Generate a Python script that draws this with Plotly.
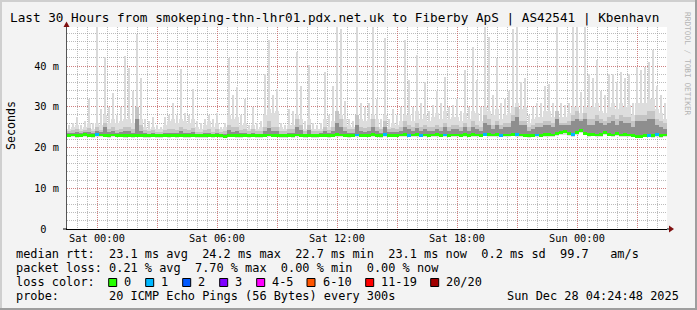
import pandas as pd
import plotly.graph_objects as go

# ---------------- data (12-minute bins, Fri 22:30 -> Sun 04:30) ----------------
bin_start = "2025-12-26 22:36"
bin_minutes = 12

rtt_max = [
    25.5, 26, 27.5, 25.5, 26.5, 32, 26, 50, 29.5, 42.3, 30, 33.3, 28, 30, 42.5,
    39.5, 34, 48, 37, 27, 26.5, 27.5, 25.5, 25, 27.5, 28, 31, 28, 39.4, 28.5,
    28, 34.5, 26.5, 26, 27, 28, 27, 28.6, 25, 26, 42, 33, 34.8, 28, 32,
    25.5, 30, 26, 26.5, 38, 46.3, 33, 34.5, 26, 25.5, 29.5, 29, 43.5, 35, 26.5,
    40.2, 26, 25.5, 26, 38.6, 28, 35, 50, 49, 31.4, 27, 26.5, 50, 31, 30,
    31, 50, 32, 27, 47, 27, 29.5, 28, 30, 46.5, 36.5, 30, 42.7, 31, 36,
    29, 30.5, 34, 31, 37.4, 30, 30.5, 32, 29, 39, 30, 44.8, 36.5, 30, 50,
    47.2, 33, 42, 31, 32, 34, 49, 50, 36, 37, 28, 30, 31, 31, 35,
    35.5, 31, 50, 31, 30.5, 31, 50, 50, 33.6, 50, 38, 37, 41.4, 34, 33,
    38, 38, 36, 38.5, 37, 38, 31, 39.8, 39, 39.7, 41, 44, 35, 33, 31,
]
rtt_p90 = [
    24.5, 25, 25.5, 24.5, 25, 26, 24.5, 26, 25.5, 28, 26, 27, 26, 26.5, 27,
    27, 26, 28, 27, 25, 24.5, 25, 24.5, 24.5, 25.5, 26.5, 27, 26, 27, 26.5,
    26, 27, 25, 24.5, 25.5, 26.5, 25, 26, 24.5, 25, 28, 27, 27.5, 25.5, 26,
    24.5, 25.5, 24.5, 25, 28, 29.5, 28.5, 29, 25, 24.5, 25.5, 25.5, 28, 27, 24.5,
    27, 24.5, 24.5, 24.5, 27, 25, 26.5, 29, 28, 27, 25.5, 25, 28, 27, 26.5,
    27, 28, 27, 25, 28, 25, 26, 25.5, 26.5, 28, 28, 26.5, 29, 27, 28,
    26.5, 27.5, 28.5, 27, 29, 27, 27.5, 27.5, 26.5, 28.5, 27, 29, 28.5, 26.5, 30,
    29, 28, 29.5, 27, 28, 28.5, 30, 31, 29.5, 30, 26, 27, 27.5, 27.5, 29,
    29, 27.5, 29, 27.5, 27.5, 28.5, 30, 30, 28.5, 30, 30, 30, 31, 29, 28.5,
    30, 31, 29.5, 31, 30, 30.5, 28, 31, 31, 31, 32, 32, 29.5, 28.5, 27,
]
rtt_p75 = [
    24, 24.3, 24.5, 24, 24.3, 24.8, 24, 25, 24.3, 26, 24.5, 25, 24.3, 24.5, 25,
    25, 24.5, 30, 25.5, 24.2, 24, 24.3, 23.9, 23.9, 24.2, 24.5, 24.5, 24.2, 25, 24.5,
    24.2, 24.8, 23.9, 23.9, 24.2, 24.5, 23.9, 24.5, 23.8, 24, 25.5, 25, 25, 24.2, 24.5,
    24, 24.5, 24, 24, 25, 26.5, 25, 25, 24, 24, 24.5, 24.5, 27, 25.5, 24,
    25.5, 24, 24, 24, 25, 24.2, 25, 29, 27, 25, 24.5, 24.5, 28, 25, 24.8,
    25, 27, 25, 24.5, 26.5, 24.5, 24.8, 24.5, 25, 26.5, 25.5, 25, 26, 25, 25.5,
    25, 25, 25.5, 25, 26, 25, 25.5, 25.5, 25, 26, 25, 26.5, 25.5, 25, 28,
    27, 25.5, 26.5, 25.5, 26, 26, 28, 30, 26.5, 26.5, 25, 25.5, 26, 26, 26.5,
    26.5, 26, 29, 26, 26, 26.5, 28, 29, 27, 28.5, 27, 27, 28, 27, 26.5,
    27.5, 28, 27, 28, 27.5, 27.5, 26.5, 28, 28, 28, 29, 29, 27, 26.5, 26,
]
rtt_p60 = [
    23.5, 23.6, 23.8, 23.5, 23.7, 23.9, 23.5, 24, 23.7, 25, 23.7, 24, 23.6, 23.7, 24,
    24, 23.6, 27, 24, 23.5, 23.4, 23.5, 23.4, 23.4, 23.5, 23.6, 23.6, 23.5, 24, 23.6,
    23.5, 23.8, 23.4, 23.4, 23.5, 23.6, 23.4, 23.6, 23.3, 23.4, 24.2, 23.9, 24, 23.5, 23.6,
    23.4, 23.6, 23.4, 23.4, 24, 24.8, 24, 24, 23.4, 23.4, 23.6, 23.6, 25, 24.2, 23.4,
    24.2, 23.4, 23.4, 23.5, 24, 23.5, 24, 26, 25, 24, 23.6, 23.6, 25.5, 24, 23.8,
    24, 25, 24, 23.6, 25, 23.7, 23.9, 23.7, 24, 25, 24.5, 24, 24.8, 24, 24.5,
    24, 24, 24.5, 24, 25, 24, 24.5, 24.5, 24, 25, 24, 25, 24.5, 24, 26,
    25.5, 24.5, 25.5, 24.5, 25, 25, 26.5, 27.5, 25.5, 25.5, 24, 24.5, 25, 25, 25.5,
    25.5, 25, 27, 25.5, 25.5, 25.5, 26.5, 27, 26.5, 27, 25.5, 25.5, 26.5, 26, 25.5,
    26, 26.5, 25.5, 26.5, 26, 26, 25, 26.5, 26.5, 26.5, 27, 27, 25.5, 25, 24.5,
]
rtt_min = [
    22.5, 22.6, 22.4, 22.5, 22.6, 22.5, 22.4, 22.6, 22.6, 22.5, 22.4, 22.6, 22.5, 22.5, 22.4,
    22.5, 22.4, 22.5, 22.5, 22.4, 22.4, 22.5, 22.4, 22.4, 22.5, 22.4, 22.5, 22.4, 22.5, 22.4,
    22.4, 22.5, 22.4, 22.4, 22.4, 22.5, 22.4, 22.5, 22.4, 22.3, 22.5, 22.5, 22.4, 22.4, 22.5,
    22.4, 22.5, 22.4, 22.4, 22.5, 22.6, 22.5, 22.5, 22.4, 22.4, 22.5, 22.4, 22.6, 22.5, 22.4,
    22.5, 22.4, 22.4, 22.5, 22.5, 22.4, 22.5, 22.7, 22.6, 22.5, 22.4, 22.5, 22.6, 22.5, 22.5,
    22.5, 22.7, 22.5, 22.4, 22.7, 22.5, 22.5, 22.5, 22.6, 22.7, 22.5, 22.6, 22.7, 22.5, 22.6,
    22.5, 22.6, 22.7, 22.5, 22.6, 22.5, 22.6, 22.6, 22.5, 22.7, 22.5, 22.7, 22.6, 22.5, 22.8,
    22.7, 22.6, 22.7, 22.5, 22.6, 22.6, 22.8, 22.7, 22.6, 22.5, 22.4, 22.5, 22.6, 22.5, 22.7,
    22.7, 22.6, 22.9, 23.0, 23.2, 22.9, 22.7, 23.1, 23.5, 23.0, 22.7, 22.8, 22.6, 22.7, 23.0,
    22.8, 22.6, 22.9, 22.6, 22.7, 22.6, 22.5, 22.3, 22.3, 22.5, 22.5, 22.4, 22.7, 22.4, 22.6,
]
rtt_median = [
    23.0, 23.1, 22.9, 23.0, 23.2, 23.0, 22.9, 23.2, 23.1, 23.0, 22.9, 23.1, 23.0, 23.0, 22.9,
    23.0, 22.9, 23.0, 23.0, 22.9, 22.9, 23.0, 22.9, 22.9, 23.0, 22.9, 23.0, 22.9, 23.0, 22.9,
    22.9, 23.0, 22.9, 22.9, 22.9, 23.0, 22.9, 23.0, 22.9, 22.8, 23.0, 23.0, 22.9, 22.9, 23.0,
    22.9, 23.0, 22.9, 22.9, 23.0, 23.1, 23.0, 23.0, 22.9, 22.9, 23.0, 22.9, 23.1, 23.0, 22.9,
    23.0, 22.9, 22.9, 23.0, 23.0, 22.9, 23.0, 23.2, 23.1, 23.0, 22.9, 23.0, 23.1, 23.0, 23.0,
    23.0, 23.2, 23.0, 22.9, 23.2, 23.0, 23.0, 23.0, 23.1, 23.2, 23.0, 23.1, 23.2, 23.0, 23.1,
    23.0, 23.1, 23.2, 23.0, 23.1, 23.0, 23.1, 23.1, 23.0, 23.2, 23.0, 23.2, 23.1, 23.0, 23.3,
    23.2, 23.1, 23.2, 23.0, 23.1, 23.1, 23.3, 23.2, 23.1, 23.0, 22.9, 23.0, 23.1, 23.0, 23.2,
    23.2, 23.1, 23.4, 23.6, 23.9, 23.4, 23.2, 23.7, 24.2, 23.5, 23.2, 23.3, 23.1, 23.2, 23.6,
    23.3, 23.1, 23.4, 23.1, 23.2, 23.1, 23.0, 22.8, 22.8, 23.0, 23.0, 22.9, 23.2, 22.9, 23.1,
]
loss_count = [
    0, 0, 0, 0, 0, 0, 0, 1, 0, 0, 0, 0, 0, 0, 0,
    0, 0, 0, 0, 0, 0, 0, 0, 0, 0, 0, 0, 0, 0, 0,
    0, 0, 0, 0, 0, 0, 0, 0, 0, 0, 0, 0, 0, 0, 0,
    0, 0, 0, 0, 0, 0, 0, 0, 0, 0, 0, 0, 0, 0, 0,
    0, 0, 0, 0, 0, 0, 0, 0, 0, 0, 0, 0, 1, 0, 0,
    0, 0, 0, 0, 1, 0, 0, 0, 0, 0, 1, 0, 0, 1, 0,
    0, 0, 0, 0, 1, 0, 0, 0, 0, 0, 0, 0, 0, 0, 1,
    0, 0, 0, 1, 0, 0, 0, 1, 0, 0, 0, 0, 1, 0, 0,
    0, 0, 0, 0, 0, 0, 1, 0, 0, 0, 0, 0, 0, 0, 0,
    0, 0, 0, 0, 0, 0, 0, 0, 0, 0, 1, 0, 1, 0, 0,
]

loss_labels = ["0", "1", "2", "3", "4-5", "6-10", "11-19", "20/20"]
loss_colors = ["#26ff00", "#00b8ff", "#0059ff", "#7e00ff", "#ff00ff", "#ff5500", "#ff0000", "#a10000"]
loss_limits = [0, 1, 2, 3, 5, 10, 19, 20]

x_tick_times = ["2025-12-27 00:00", "2025-12-27 03:00", "2025-12-27 06:00", "2025-12-27 09:00",
                "2025-12-27 12:00", "2025-12-27 15:00", "2025-12-27 18:00", "2025-12-27 21:00",
                "2025-12-28 00:00", "2025-12-28 03:00"]
x_tick_labels = ["Sat 00:00", "", "Sat 06:00", "", "Sat 12:00", "", "Sat 18:00", "", "Sun 00:00", ""]
y_tick_vals = [0, 10, 20, 30, 40]
y_tick_labels = ["0\u00a0\u00a0", "10\u00a0m", "20\u00a0m", "30\u00a0m", "40\u00a0m"]

title_text = "Last 30 Hours from smokeping-thn-lhr01.pdx.net.uk to Fiberby ApS | AS42541 | Kbenhavn"
legend_lines = [
    "median rtt:  23.1 ms avg  24.2 ms max  22.7 ms min  23.1 ms now  0.2 ms sd  99.7   am/s",
    "packet loss: 0.21 % avg  7.70 % max  0.00 % min  0.00 % now",
    "loss color:",
    "probe:       20 ICMP Echo Pings (56 Bytes) every 300s",
]
stamp_text = "Sun Dec 28 04:24:48 2025"

# ---------------- layout geometry ----------------
W, H = 697, 310
L, R, T, B = 67, 667, 27, 229
MONO = "DejaVu Sans Mono"


def px(xpix):
    return (xpix - L) / (R - L)


def py(ypix):
    return (B - ypix) / (B - T)


times = pd.date_range(start=bin_start, periods=len(rtt_max), freq=f"{bin_minutes}min")
bin_ms = bin_minutes * 60 * 1000


def loss_color(n):
    for lim, col in zip(loss_limits, loss_colors):
        if n <= lim:
            return col
    return loss_colors[-1]


fig = go.Figure()


def smoke(top, base, color, width):
    fig.add_trace(go.Bar(
        x=times, y=[t - b for t, b in zip(top, base)], base=base, width=width,
        marker=dict(color=color, line=dict(width=0)), hoverinfo="skip",
    ))


smoke(rtt_max, rtt_min, "#d9d9d9", bin_ms * 0.55)
smoke(rtt_p90, rtt_min, "#dddddd", bin_ms)
smoke(rtt_p75, [m - 0.3 for m in rtt_median], "#c4c4c4", bin_ms)
smoke(rtt_p60, [m - 0.2 for m in rtt_median], "#8e8e8e", bin_ms)
fig.add_trace(go.Bar(
    x=times, y=[0.7] * len(rtt_median), base=[m - 0.35 for m in rtt_median], width=bin_ms,
    marker=dict(color=[loss_color(n) for n in loss_count], line=dict(width=0)), hoverinfo="skip",
))

grid_minor = "rgba(143,143,143,0.6)"
grid_major = "rgba(222,79,79,0.55)"

fig.update_layout(
    width=W, height=H,
    margin=dict(l=L, r=W - R, t=T, b=H - B),
    paper_bgcolor="#f3f3f3", plot_bgcolor="#ffffff",
    barmode="overlay", bargap=0, showlegend=False, hovermode=False,
    font=dict(family=MONO, color="#000000"),
    xaxis=dict(
        type="date", range=["2025-12-26 22:30", "2025-12-28 04:30"],
        tickmode="array", tickvals=x_tick_times, ticktext=x_tick_labels,
        tickfont=dict(family=MONO, size=10.3, color="#000"),
        showgrid=True, gridcolor=grid_major, griddash="1px,1px", gridwidth=1,
        minor=dict(dtick=1800000, tick0="2025-12-26 22:30", showgrid=True,
                   gridcolor=grid_minor, griddash="1px,1px", gridwidth=1),
        showline=True, linecolor="#000000", linewidth=1, ticks="", zeroline=False,
        fixedrange=True,
    ),
    yaxis=dict(
        range=[0, 49.6], tickmode="array", tickvals=y_tick_vals, ticktext=y_tick_labels,
        tickfont=dict(family=MONO, size=10.3, color="#000"),
        showgrid=True, gridcolor=grid_major, griddash="1px,1px", gridwidth=1,
        minor=dict(dtick=2, showgrid=True, gridcolor=grid_minor, griddash="1px,1px", gridwidth=1),
        showline=True, linecolor="#555555", linewidth=1, ticks="", zeroline=False,
        ticklabelstandoff=5, fixedrange=True,
    ),
)

ann = []
ann.append(dict(text=title_text.replace(" ", "\u00a0"), x=px(334), y=py(18), xref="paper", yref="paper",
                showarrow=False, xanchor="center", yanchor="middle",
                font=dict(family=MONO, size=12.7, color="#000")))
ann.append(dict(text="Seconds", x=px(11), y=py(126), xref="paper", yref="paper", textangle=-90,
                showarrow=False, xanchor="center", yanchor="middle",
                font=dict(family=MONO, size=11.6, color="#000")))
ann.append(dict(text="RRDTOOL\u00a0/\u00a0TOBI\u00a0OETIKER", x=px(688), y=py(64), xref="paper", yref="paper",
                textangle=90, showarrow=False, xanchor="center", yanchor="middle",
                font=dict(family=MONO, size=7.8, color="#b4b4b4")))
line_y = [254.3, 268.3, 282, 296]
for txt, yy in zip(legend_lines, line_y):
    ann.append(dict(text=txt.replace(" ", "\u00a0"), x=px(14.4), y=py(yy), xref="paper", yref="paper",
                    showarrow=False, xanchor="left", yanchor="middle",
                    font=dict(family=MONO, size=11.9, color="#000")))
ann.append(dict(text=stamp_text.replace(" ", "\u00a0"), x=px(681), y=py(296), xref="paper", yref="paper",
                showarrow=False, xanchor="right", yanchor="middle",
                font=dict(family=MONO, size=11.9, color="#000")))

box_x = [108.7, 145.7, 182.7, 219.7, 256.7, 307, 365.7, 430.7]
shapes = []
for bx, lab, col in zip(box_x, loss_labels, loss_colors):
    shapes.append(dict(type="rect", xref="paper", yref="paper",
                       x0=px(bx), x1=px(bx + 8), y0=py(286.5), y1=py(278.5),
                       fillcolor=col, line=dict(color="#000", width=1)))
    ann.append(dict(text=lab, x=px(bx + 13.5), y=py(282), xref="paper", yref="paper",
                    showarrow=False, xanchor="left", yanchor="middle",
                    font=dict(family=MONO, size=11.9, color="#000")))

# frame (3D border)
shapes += [
    dict(type="rect", xref="paper", yref="paper", x0=px(0), x1=px(W), y0=py(0), y1=py(2),
         fillcolor="#cfcfcf", line=dict(width=0), layer="above"),
    dict(type="rect", xref="paper", yref="paper", x0=px(0), x1=px(2), y0=py(0), y1=py(H),
         fillcolor="#cfcfcf", line=dict(width=0), layer="above"),
    dict(type="rect", xref="paper", yref="paper", x0=px(0), x1=px(W), y0=py(H - 2), y1=py(H),
         fillcolor="#9e9e9e", line=dict(width=0), layer="above"),
    dict(type="rect", xref="paper", yref="paper", x0=px(W - 2), x1=px(W), y0=py(0), y1=py(H),
         fillcolor="#9e9e9e", line=dict(width=0), layer="above"),
]
# axis arrows and overhang
shapes += [
    dict(type="line", xref="paper", yref="paper", x0=px(63), x1=px(67), y0=py(229), y1=py(229),
         line=dict(color="#000", width=1)),
    dict(type="line", xref="paper", yref="paper", x0=px(667), x1=px(670), y0=py(229), y1=py(229),
         line=dict(color="#000", width=1)),
    dict(type="path", xref="paper", yref="paper",
         path=f"M {px(669)} {py(225.5)} L {px(674)} {py(229)} L {px(669)} {py(232.5)} Z",
         fillcolor="#7f1010", line=dict(width=0)),
    dict(type="path", xref="paper", yref="paper",
         path=f"M {px(63.5)} {py(27)} L {px(66.5)} {py(21.5)} L {px(69.5)} {py(27)} Z",
         fillcolor="#7f1010", line=dict(width=0)),
]

fig.update_layout(annotations=ann, shapes=shapes)
fig.write_html("out.html")
